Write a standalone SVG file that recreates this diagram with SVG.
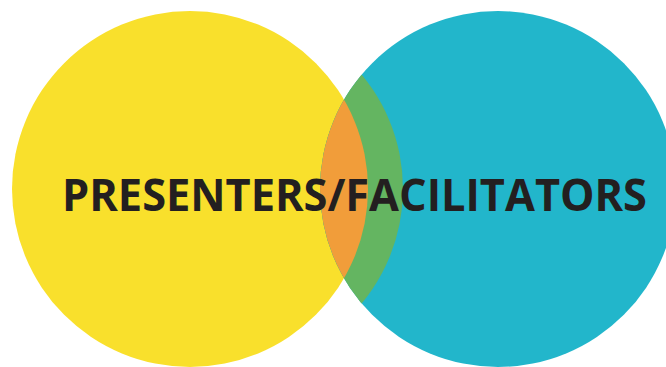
<svg xmlns="http://www.w3.org/2000/svg" width="666" height="367" viewBox="0 0 666 367">
<style>
.lbl{font-family:"Open Sans","Liberation Sans",sans-serif;font-weight:700;font-size:45px;fill:#231F20}
</style>
<defs>
<clipPath id="clipTeal"><circle cx="498" cy="189" r="178"/></clipPath>
</defs>
<rect width="666" height="367" fill="#ffffff"/>
<g id="yellow"><circle cx="190" cy="189" r="178" fill="#F9E02C"/></g>
<g id="teal"><circle cx="498" cy="189" r="178" fill="#22B6CB"/></g>
<g id="overlap">
<circle cx="224" cy="189" r="179" fill="#64B561" clip-path="url(#clipTeal)"/>
<g clip-path="url(#clipTeal)"><circle cx="190" cy="189" r="178" fill="#F19D3A"/></g>
</g>
<g id="connectors"/>
<g id="label"><text class="lbl" x="62" y="211" textLength="585" lengthAdjust="spacingAndGlyphs">PRESENTERS/FACILITATORS</text></g>
</svg>
